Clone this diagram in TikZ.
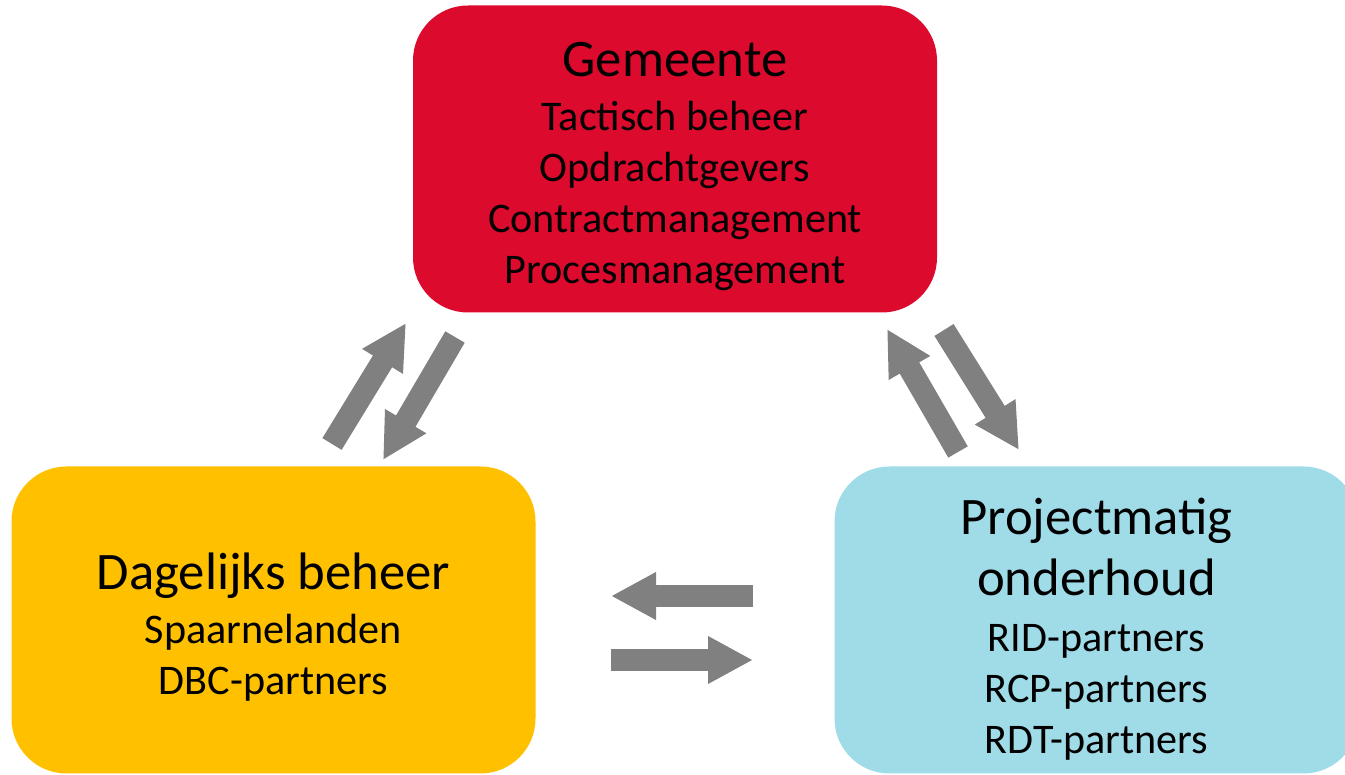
\documentclass[tikz,border=0pt]{standalone}
\usepackage{fontspec}
\setmainfont{Carlito}
\usepackage{xcolor}
\usetikzlibrary{arrows.meta}

\definecolor{gemred}{RGB}{220,10,45}
\definecolor{dagyellow}{RGB}{255,192,0}
\definecolor{projblue}{RGB}{160,219,232}
\definecolor{arrgray}{RGB}{128,128,128}
\newcommand{\ttlfont}{\fontsize{30}{36}\selectfont}

\begin{document}
\begin{tikzpicture}[
  box/.style={rounded corners=1.1cm, minimum width=10.48cm, minimum height=6.14cm, inner sep=0pt},
  txt/.style={align=center, font=\fontsize{24}{29}\selectfont, inner sep=0pt},
  blockarrow/.style={arrgray, line width=0.45cm, -{Triangle[length=0.9cm, width=0.89cm]}}
]
\clip (0,0) rectangle (26.9,15.5);

% Gemeente
\node[box, fill=gemred] (gem) at (13.5,12.32) {};
\node[txt] (gemtxt) at (13.5,12.17) {{\ttlfont Gemeente}\\[1.7pt] Tactisch beheer\\ Opdrachtgevers\\ Contractmanagement\\ Procesmanagement};

% Dagelijks beheer
\node[box, fill=dagyellow] (dag) at (5.47,3.10) {};
\node[txt] (dagtxt) at (5.47,2.96) {{\ttlfont Dagelijks beheer}\\[1.7pt] Spaarnelanden\\ DBC-partners};

% Projectmatig onderhoud
\node[box, fill=projblue] (proj) at (21.93,3.10) {};
\node[txt] (projtxt) at (21.93,2.92) {{\ttlfont Projectmatig}\\[6pt] {\ttlfont onderhoud}\\[2.5pt] RID-partners\\ RCP-partners\\ RDT-partners};

% Arrows Dagelijks - Gemeente
\coordinate (dg1) at (6.64,6.62);
\coordinate (dg2) at (8.12,9.04);
\coordinate (gd1) at (9.10,8.76);
\coordinate (gd2) at (7.66,6.30);
\draw[blockarrow] (dg1) -- (dg2);
\draw[blockarrow] (gd1) -- (gd2);

% Arrows Projectmatig - Gemeente
\coordinate (pg1) at (19.16,6.46);
\coordinate (pg2) at (17.74,8.92);
\coordinate (gp1) at (18.88,8.90);
\coordinate (gp2) at (20.38,6.50);
\draw[blockarrow] (pg1) -- (pg2);
\draw[blockarrow] (gp1) -- (gp2);

% Arrows Projectmatig - Dagelijks
\coordinate (pd1) at (15.06,3.58);
\coordinate (pd2) at (12.22,3.58);
\coordinate (dp1) at (12.22,2.30);
\coordinate (dp2) at (15.06,2.30);
\draw[blockarrow] (pd1) -- (pd2);
\draw[blockarrow] (dp1) -- (dp2);
\end{tikzpicture}
\end{document}
